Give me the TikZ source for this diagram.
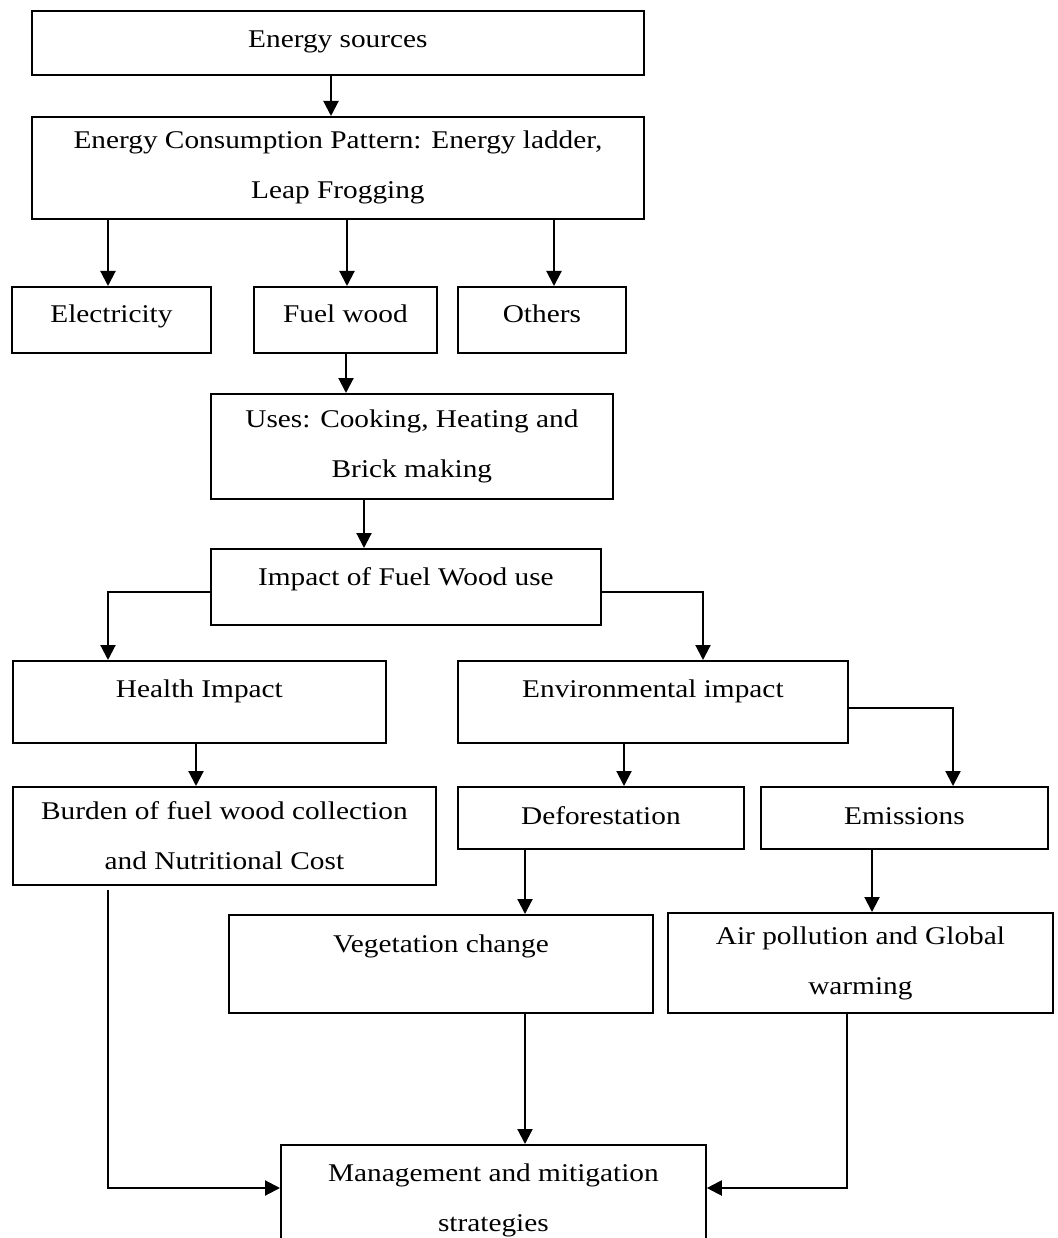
\documentclass[tikz,border=0pt]{standalone}
\usepackage{fontspec}
\setmainfont[FakeStretch=1.15]{Liberation Serif}
\usetikzlibrary{arrows.meta}
\begin{document}
\begin{tikzpicture}[x=1pt,y=-1pt,
  box/.style={draw, line width=1.8pt, inner sep=0pt, anchor=north west, font=\fontsize{25.5}{50}\selectfont},
  boxtwo/.style={box, align=center},
  arr/.style={line width=2.1pt, -{Triangle[length=15pt,width=15pt]}}]
\clip (0,0) rectangle (1057,1238);
% boxes
\node[box, minimum width=612, text height=37, text depth=27] (es) at (31,10) {Energy sources};
\node[boxtwo, minimum width=612, minimum height=102] (ecp) at (31,116) {Energy Consumption Pattern: Energy ladder,\\Leap Frogging};
\node[box, minimum width=199, text height=36, text depth=30] (elec) at (11,286) {Electricity};
\node[box, minimum width=183, text height=36, text depth=30] (fw) at (253,286) {Fuel wood};
\node[box, minimum width=168, text height=36, text depth=30] (oth) at (457,286) {Others};
\node[boxtwo, minimum width=402, minimum height=105] (uses) at (210,393) {Uses: Cooking, Heating and\\Brick making};
\node[box, minimum width=390, text height=37, text depth=39] (imp) at (210,548) {Impact of Fuel Wood use};
\node[box, minimum width=373, text height=37, text depth=45] (hea) at (12,660) {Health Impact};
\node[box, minimum width=390, text height=37, text depth=45] (env) at (457,660) {Environmental impact};
\node[boxtwo, minimum width=423, minimum height=98] (bur) at (12,786) {Burden of fuel wood collection\\and Nutritional Cost};
\node[box, minimum width=286, text height=38, text depth=24] (def) at (457,786) {Deforestation};
\node[box, minimum width=287, text height=38, text depth=24] (emi) at (760,786) {Emissions};
\node[box, minimum width=424, text height=38, text depth=60] (veg) at (228,914) {Vegetation change};
\node[boxtwo, minimum width=385, minimum height=100] (air) at (667,912) {Air pollution and Global\\warming};
\node[boxtwo, minimum width=425, minimum height=110] (man) at (280,1144) {Management and mitigation\\strategies};
% connectors
\draw[arr] (331,0 |- es.south) -- (331,0 |- ecp.north);
\draw[arr] (108,0 |- ecp.south) -- (108,0 |- elec.north);
\draw[arr] (347,0 |- ecp.south) -- (347,0 |- fw.north);
\draw[arr] (554,0 |- ecp.south) -- (554,0 |- oth.north);
\draw[arr] (346,0 |- fw.south) -- (346,0 |- uses.north);
\draw[arr] (364,0 |- uses.south) -- (364,0 |- imp.north);
\draw[arr] (imp.west |- 0,592) -| (108,0 |- hea.north);
\draw[arr] (imp.east |- 0,592) -| (703,0 |- env.north);
\draw[arr] (env.east |- 0,708) -| (953,0 |- emi.north);
\draw[arr] (196,0 |- hea.south) -- (196,0 |- bur.north);
\draw[arr] (624,0 |- env.south) -- (624,0 |- def.north);
\draw[arr] (525,0 |- def.south) -- (525,0 |- veg.north);
\draw[arr] (872,0 |- emi.south) -- (872,0 |- air.north);
\coordinate (bstart) at (108,890);
\draw[arr] (bstart) |- (man.west |- 0,1188);
\draw[arr] (525,0 |- veg.south) -- (525,0 |- man.north);
\draw[arr] (847,0 |- air.south) |- (man.east |- 0,1188);
\end{tikzpicture}
\end{document}
